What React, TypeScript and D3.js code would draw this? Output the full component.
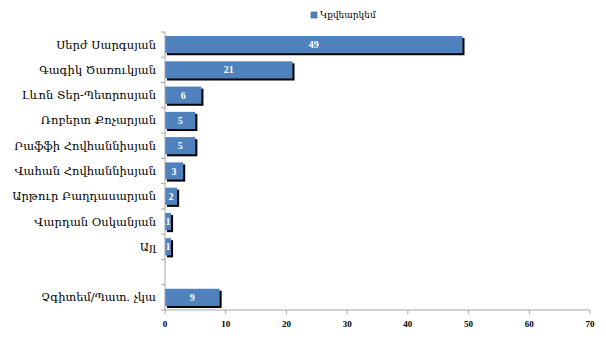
import React from "react";
import * as d3 from "d3";

const categories = [
  "Սերժ Սարգսյան",
  "Գագիկ Ծառուկյան",
  "Լևոն Տեր-Պետրոսյան",
  "Ռոբերտ Քոչարյան",
  "Րաֆֆի Հովհաննիսյան",
  "Վահան Հովհաննիսյան",
  "Արթուր Բաղդասարյան",
  "Վարդան Օսկանյան",
  "Այլ",
  "",
  "Չգիտեմ/Պատ. չկա",
];
const values: (number | null)[] = [49, 21, 6, 5, 5, 3, 2, 1, 1, null, 9];
const xTicks = [0, 10, 20, 30, 40, 50, 60, 70];
const seriesName = "Կքվեարկեմ";

const W = 606, H = 342;
const left = 165, right = 590, top = 32, bottom = 310;
const serif = "'Times New Roman', 'Liberation Serif', 'DejaVu Serif', serif";
const armFont = "'DejaVu Serif', 'Times New Roman', serif";

export default function App() {
  const x = d3.scaleLinear().domain([0, 70]).range([left, right]);
  const ids = categories.map((_, i) => String(i));
  const y = d3.scaleBand().domain(ids).range([top, bottom]).paddingInner(0.32).paddingOuter(0.16);
  const boundaries = d3.range(categories.length + 1).map((i) => top + i * ((bottom - top) / categories.length));
  return (
    <svg width={W} height={H} style={{ position: "absolute", left: 0, top: 0 }}>
      <rect width={W} height={H} fill="#fff" />
      {/* legend */}
      <rect x={311} y={12} width={6} height={6} fill="#4f81bd" stroke="#385d8a" strokeWidth={0.6} />
      <text x={320} y={18} fontFamily={armFont} fontSize={9} fill="#000">{seriesName}</text>
      {/* bars */}
      {values.map((v, i) =>
        v == null ? null : (
          <g key={i}>
            <rect x={x(0) + 2} y={y(String(i))! + 2} width={x(v) - x(0)} height={y.bandwidth()} fill="#000" />
            <rect x={x(0)} y={y(String(i))!} width={x(v) - x(0)} height={y.bandwidth()} fill="#4f81bd" />
            <text
              x={(x(0) + x(v)) / 2}
              y={y(String(i))! + y.bandwidth() / 2 + 3.5}
              textAnchor="middle"
              fontFamily={serif}
              fontSize={10}
              fontWeight="bold"
              fill="#fff"
            >
              {v}
            </text>
          </g>
        )
      )}
      {/* y axis */}
      <line x1={left} x2={left} y1={top} y2={bottom} stroke="#a6a6a6" />
      {boundaries.map((b, i) => (
        <line key={i} x1={left - 4} x2={left} y1={b} y2={b} stroke="#a6a6a6" />
      ))}
      {categories.map((c, i) => (
        <text
          key={i}
          x={156}
          y={y(String(i))! + y.bandwidth() / 2 + 4}
          textAnchor="end"
          fontFamily={armFont}
          fontSize={11.5}
          fill="#000"
        >
          {c}
        </text>
      ))}
      {/* x axis */}
      <line x1={left} x2={right} y1={bottom} y2={bottom} stroke="#a6a6a6" />
      {xTicks.map((t) => (
        <g key={t}>
          <line x1={x(t)} x2={x(t)} y1={bottom} y2={bottom + 4} stroke="#a6a6a6" />
          <text x={x(t)} y={bottom + 17} textAnchor="middle" fontFamily={serif} fontSize={9} fontWeight="bold" fill="#000">
            {t}
          </text>
        </g>
      ))}
    </svg>
  );
}
